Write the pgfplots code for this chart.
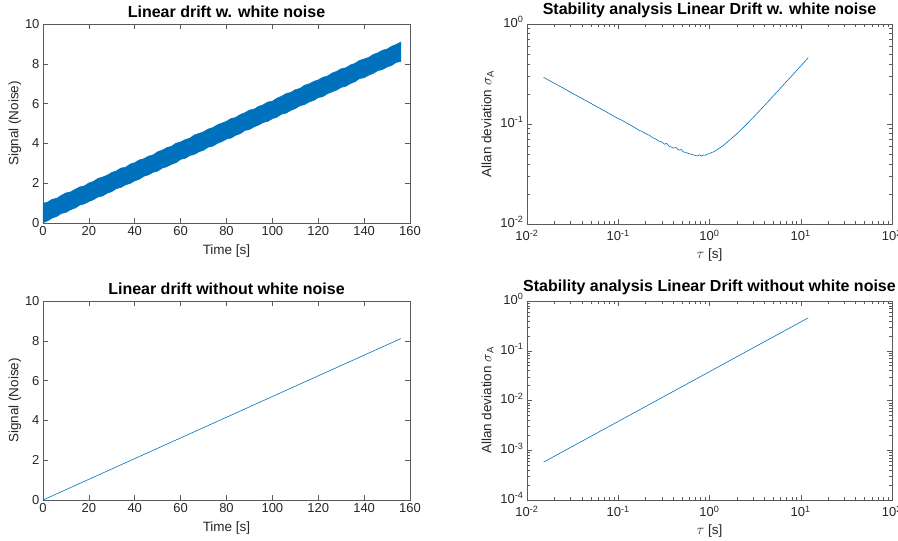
\documentclass[border=0pt]{standalone}
\usepackage{pgfplots}
\pgfplotsset{compat=1.18}
\usepackage{fontspec}
\setmainfont{Liberation Sans}
\definecolor{mblue}{RGB}{0,114,189}
\definecolor{mgray}{RGB}{38,38,38}
\definecolor{agray}{RGB}{90,90,90}

\pgfplotsset{
  mstyle/.style={
    scale only axis,
    axis line style={draw=agray, line width=0.6pt},
    every tick/.style={draw=agray, line width=0.5pt},
    tick align=inside,
    major tick length=5pt,
    minor tick length=3pt,
    ticklabel style={font=\fontsize{13}{15}\selectfont, text=mgray},
    label style={font=\fontsize{13.5}{15}\selectfont, text=mgray},
    title style={font=\fontsize{16}{18}\selectfont\bfseries, text=black, yshift=-3pt},
    /pgf/number format/assume math mode=true,
  },
  mylogx/.style={
    xmin=0.01, xmax=100,
    xtick={0.01,0.1,1,10,100},
    xticklabels={10\textsuperscript{-2},10\textsuperscript{-1},10\textsuperscript{0},10\textsuperscript{1},10\textsuperscript{2}},
    minor xtick={0.02,0.03,0.04,0.05,0.06,0.07,0.08,0.09,0.2,0.3,0.4,0.5,0.6,0.7,0.8,0.9,2,3,4,5,6,7,8,9,20,30,40,50,60,70,80,90},
    xticklabel style={yshift=-2.5pt},
    yticklabel style={yshift=2pt},
    xlabel={$\tau$ [s]},
    xlabel shift=1pt,
  },
}

\begin{document}
\begin{tikzpicture}
\useasboundingbox (0,0) rectangle (898pt,-541pt);

% ---------- top left
\begin{axis}[mstyle, at={(43pt,-223pt)}, anchor=south west,
  width=367pt, height=199pt,
  xmin=0, xmax=160, ymin=0, ymax=10,
  xtick={0,20,...,160}, ytick={0,2,...,10},
  title={Linear drift w. white noise},
  xlabel={Time [s]}, ylabel={Signal (Noise)},
  xlabel shift=2pt, ylabel shift=-3pt]
\addplot[fill=mblue, draw=mblue, line width=0.6pt] coordinates {
(0,0.99)(2,1.05)(4,1.19)(6,1.24)(8,1.39)(10,1.51)(12,1.56)(14,1.69)(16,1.81)(18,1.86)
(20,2.01)(22,2.09)(24,2.24)(26,2.31)(28,2.40)(30,2.54)(32,2.62)(34,2.76)(36,2.80)(38,2.96)
(40,3.03)(42,3.17)(44,3.23)(46,3.36)(48,3.42)(50,3.58)(52,3.66)(54,3.79)(56,3.85)(58,4.01)
(60,4.07)(62,4.19)(64,4.26)(66,4.42)(68,4.50)(70,4.58)(72,4.72)(74,4.79)(76,4.93)(78,5.02)
(80,5.11)(82,5.25)(84,5.30)(86,5.45)(88,5.54)(90,5.67)(92,5.72)(94,5.86)(96,5.94)(98,6.08)
(100,6.12)(102,6.27)(104,6.37)(106,6.50)(108,6.56)(110,6.70)(112,6.76)(114,6.92)(116,6.99)(118,7.11)
(120,7.19)(122,7.32)(124,7.38)(126,7.53)(128,7.62)(130,7.75)(132,7.80)(134,7.94)(136,8.02)(138,8.17)
(140,8.24)(142,8.32)(144,8.47)(146,8.55)(148,8.68)(150,8.74)(152,8.88)(154,8.97)(156,9.09)
(156,8.12)(154,8.07)(152,7.92)(150,7.84)(148,7.71)(146,7.66)(144,7.52)(142,7.43)(140,7.30)(138,7.26)
(136,7.10)(134,7.01)(132,6.87)(130,6.82)(128,6.68)(126,6.59)(124,6.50)(122,6.35)(120,6.30)(118,6.16)
(116,6.08)(114,5.95)(112,5.89)(110,5.75)(108,5.66)(106,5.52)(104,5.47)(102,5.32)(100,5.24)(98,5.11)
(96,5.05)(94,4.92)(92,4.83)(90,4.70)(88,4.65)(86,4.49)(84,4.41)(82,4.27)(80,4.22)(78,4.09)
(76,4.00)(74,3.86)(72,3.81)(70,3.66)(68,3.58)(66,3.45)(64,3.39)(62,3.25)(60,3.20)(58,3.03)
(56,2.95)(54,2.83)(52,2.76)(50,2.61)(48,2.55)(46,2.42)(44,2.35)(42,2.20)(40,2.12)(38,1.99)
(36,1.92)(34,1.79)(32,1.73)(30,1.58)(28,1.50)(26,1.36)(24,1.31)(22,1.17)(20,1.08)(18,0.96)
(16,0.90)(14,0.75)(12,0.67)(10,0.53)(8,0.48)(6,0.33)(4,0.25)(2,0.11)(0,0.01)
};
\end{axis}

% ---------- top right
\begin{axis}[mstyle, xmode=log, ymode=log, mylogx, at={(527pt,-224pt)}, anchor=south west,
  width=365pt, height=200pt,
  ymin=0.01, ymax=1,
  ytick={0.01,0.1,1},
  yticklabels={10\textsuperscript{-2},10\textsuperscript{-1},10\textsuperscript{0}},
  minor ytick={0.02,0.03,0.04,0.05,0.06,0.07,0.08,0.09,0.2,0.3,0.4,0.5,0.6,0.7,0.8,0.9},
  title={Stability analysis Linear Drift w. white noise},
  ylabel={Allan deviation $\sigma$\textsubscript{A}}]
\addplot[mblue, line width=0.6pt] coordinates {
(0.0152,0.2925)(0.02,0.2550)(0.025,0.2285)(0.03,0.2075)(0.04,0.1800)(0.05,0.1610)
(0.06,0.1468)(0.07,0.1360)(0.08,0.1270)(0.09,0.1195)(0.1,0.1130)(0.11,0.1090)
(0.12,0.1040)(0.13,0.0995)(0.14,0.0962)(0.15,0.0925)(0.16,0.0895)(0.17,0.0860)
(0.18,0.0850)(0.19,0.0822)(0.2,0.0802)(0.22,0.0770)(0.24,0.0728)(0.26,0.0705)
(0.28,0.0672)(0.3,0.0662)(0.32,0.0628)(0.34,0.0640)(0.36,0.0598)(0.38,0.0590)
(0.4,0.0575)(0.43,0.0582)(0.46,0.0548)(0.49,0.0556)(0.52,0.0525)(0.55,0.0520)
(0.58,0.0510)(0.62,0.0500)(0.66,0.0492)(0.70,0.0485)(0.74,0.0480)(0.78,0.0492)
(0.82,0.0478)(0.86,0.0490)(0.9,0.0487)(0.95,0.0500)(1.0,0.0505)(1.05,0.0518)
(1.1,0.0525)(1.2,0.0550)(1.3,0.0578)(1.4,0.0605)(1.5,0.0637)(2,0.0800)
(2.5,0.0975)(3,0.1157)(4,0.1530)(5,0.1905)(6,0.2285)(8,0.3040)(10,0.3800)(12.1,0.4600)
};
\end{axis}

% ---------- bottom left
\begin{axis}[mstyle, at={(43pt,-500pt)}, anchor=south west,
  width=367pt, height=199pt,
  xmin=0, xmax=160, ymin=0, ymax=10,
  xtick={0,20,...,160}, ytick={0,2,...,10},
  title={Linear drift without white noise},
  xlabel={Time [s]}, ylabel={Signal (Noise)},
  xlabel shift=2pt, ylabel shift=-3pt]
\addplot[mblue, line width=0.6pt] coordinates {(0,0) (40,2.08) (80,4.16) (120,6.24) (156,8.11)};
\end{axis}

% ---------- bottom right
\begin{axis}[mstyle, xmode=log, ymode=log, mylogx, at={(527pt,-500pt)}, anchor=south west,
  width=365pt, height=199pt,
  ymin=0.0001, ymax=1,
  ytick={0.0001,0.001,0.01,0.1,1},
  yticklabels={10\textsuperscript{-4},10\textsuperscript{-3},10\textsuperscript{-2},10\textsuperscript{-1},10\textsuperscript{0}},
  minor ytick={0.0002,0.0003,0.0004,0.0005,0.0006,0.0007,0.0008,0.0009,0.002,0.003,0.004,0.005,0.006,0.007,0.008,0.009,0.02,0.03,0.04,0.05,0.06,0.07,0.08,0.09,0.2,0.3,0.4,0.5,0.6,0.7,0.8,0.9},
  title={Stability analysis Linear Drift without white noise},
  ylabel={Allan deviation $\sigma$\textsubscript{A}}]
\addplot[mblue, line width=0.6pt] coordinates {
(0.0152,0.000578)(0.05,0.0019)(0.1,0.0038)(0.5,0.019)(1,0.038)(5,0.19)(12.1,0.46)
};
\end{axis}
\end{tikzpicture}
\end{document}
